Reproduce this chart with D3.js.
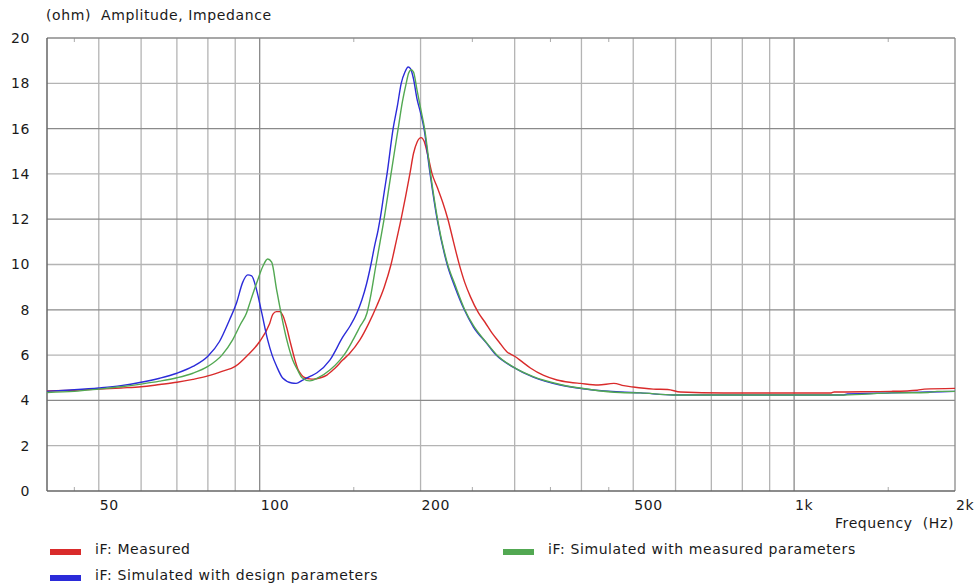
<!DOCTYPE html>
<html>
<head>
<meta charset="utf-8">
<script src="https://cdn.jsdelivr.net/npm/d3@7"></script>
<style>
  html, body { margin: 0; padding: 0; background: #ffffff; }
  svg { display: block; font-family: "DejaVu Sans", Verdana, sans-serif; }
  text { fill: #1a1a1a; letter-spacing: 0.6px; }
</style>
</head>
<body>
<svg id="chart" width="976" height="585"></svg>
<script>
// Impedance magnitude (ohm) versus frequency (Hz)
const measuredHz  = [40, 45, 50, 55, 60, 65, 70, 75, 80, 85, 90, 95, 100, 104.4, 105.8, 107.5, 109, 110.5, 112.4, 114, 115.3, 116.5, 117.8, 119.5, 121.5, 124, 126, 130, 133.6, 138, 143, 147, 154, 160, 165.8, 171, 176.1, 180, 183.9, 187.5, 191, 194, 197, 200.5, 203, 206, 210.2, 215, 220, 225, 230.5, 236, 242, 248, 256.7, 264, 272, 280, 290, 300, 310, 321, 340, 360, 380, 398, 430, 460, 480, 500, 545, 580, 613, 738, 1173, 1188, 1520, 1700, 1752, 2000];
const measuredOhm = [4.42, 4.45, 4.5, 4.55, 4.6, 4.7, 4.8, 4.93, 5.08, 5.28, 5.5, 6.0, 6.6, 7.4, 7.8, 7.92, 7.92, 7.75, 7.2, 6.6, 6.15, 5.75, 5.4, 5.15, 5.0, 4.95, 4.94, 5.0, 5.12, 5.4, 5.78, 6.05, 6.67, 7.4, 8.2, 9.0, 10.0, 11.0, 12.0, 13.0, 14.0, 14.9, 15.4, 15.6, 15.45, 14.9, 14.0, 13.4, 12.75, 12.0, 11.0, 10.05, 9.2, 8.57, 7.86, 7.45, 6.98, 6.6, 6.15, 5.95, 5.7, 5.43, 5.1, 4.9, 4.8, 4.75, 4.68, 4.75, 4.65, 4.59, 4.5, 4.48, 4.37, 4.33, 4.33, 4.37, 4.4, 4.45, 4.5, 4.53];

const designHz  = [40, 45, 50, 55, 60, 65, 70, 75, 80, 84.1, 87.8, 90.5, 92.9, 95, 96.6, 98.7, 100.9, 103.5, 105.5, 107.6, 110.4, 114.8, 117, 120.4, 124, 128, 135.3, 143.1, 148, 152, 155.3, 158.5, 161.5, 164, 166.5, 168, 171, 173.1, 177.7, 181, 184, 187, 189.6, 191.5, 194, 197, 200, 203, 208.4, 214.8, 224.3, 232, 241.5, 251.2, 265.7, 277, 298, 325, 365, 421, 473, 516, 595, 1238, 1258, 1520, 1781, 2000];
const designOhm = [4.4, 4.47, 4.55, 4.65, 4.8, 4.98, 5.2, 5.5, 5.95, 6.6, 7.55, 8.3, 9.2, 9.54, 9.5, 8.87, 7.86, 6.67, 6.0, 5.5, 4.99, 4.77, 4.75, 4.9, 5.05, 5.22, 5.78, 6.8, 7.33, 7.86, 8.43, 9.15, 10.0, 10.8, 11.5, 12.0, 13.2, 14.0, 16.0, 17.0, 18.0, 18.5, 18.72, 18.65, 18.2, 17.3, 16.7, 16.0, 14.0, 12.0, 10.0, 9.0, 8.0, 7.24, 6.53, 6.0, 5.47, 5.03, 4.68, 4.46, 4.37, 4.33, 4.24, 4.24, 4.28, 4.33, 4.37, 4.4];

const fittedHz  = [40, 45, 50, 55, 60, 65, 70, 75, 80, 85, 89, 92, 94.5, 96, 98.7, 101.3, 103.5, 105.3, 107.6, 110, 112.4, 115.3, 118, 120, 124.1, 128.5, 135.3, 141.3, 144.3, 149.5, 154, 158.8, 161, 165.1, 168, 170.9, 173.5, 176.1, 178.8, 181.6, 185, 188, 190, 192.1, 194, 197, 200, 203.5, 208.8, 215, 224.5, 232.5, 241.5, 251.2, 265.7, 277.5, 298, 325, 365, 421, 473, 516, 595, 1238, 1520, 1781, 1850, 2000];
const fittedOhm = [4.35, 4.4, 4.5, 4.6, 4.72, 4.85, 5.0, 5.2, 5.5, 6.0, 6.67, 7.35, 7.86, 8.35, 9.18, 9.9, 10.24, 10.1, 8.87, 7.68, 6.67, 5.78, 5.3, 5.0, 4.86, 4.99, 5.34, 5.78, 6.05, 6.67, 7.25, 7.86, 8.5, 10.0, 11.0, 12.0, 13.0, 14.0, 15.0, 16.0, 17.2, 18.0, 18.45, 18.6, 18.5, 17.7, 16.9, 16.0, 14.0, 12.05, 10.05, 9.05, 8.05, 7.3, 6.55, 6.02, 5.48, 5.05, 4.7, 4.46, 4.35, 4.33, 4.24, 4.24, 4.33, 4.35, 4.4, 4.4];

// Axis ticks and grid
const xGridHz    = [50, 60, 70, 80, 90, 100, 200, 300, 400, 500, 600, 700, 800, 900, 1000];
const xMajorHz   = [100, 1000];
const xMinorHz   = [45, 150, 250, 350, 450, 1500];
const xTickHz    = [50, 100, 200, 500, 1000, 2000];
const xTickText  = ["50", "100", "200", "500", "1k", "2k"];
const yTicks     = [0, 2, 4, 6, 8, 10, 12, 14, 16, 18, 20];
const yMajor     = [4, 8, 12, 16];

const seriesNames  = ["iF: Measured", "iF: Simulated with design parameters", "iF: Simulated with measured parameters"];
const seriesColors = ["#d92b2b", "#2b2bd9", "#52a852"];

const svg = d3.select("#chart");
const plotLeft = 47, plotRight = 955, plotTop = 38, plotBottom = 491;

const x = d3.scaleLog().domain([40, 2000]).range([plotLeft, plotRight]);
const y = d3.scaleLinear().domain([0, 20]).range([plotBottom, plotTop]);

// grid
const grid = svg.append("g");
grid.selectAll("line.gx").data(xGridHz).join("line")
  .attr("x1", d => x(d)).attr("x2", d => x(d))
  .attr("y1", plotTop).attr("y2", plotBottom)
  .attr("stroke", d => xMajorHz.includes(d) ? "#8a8a8a" : "#b4b4b4")
  .attr("stroke-width", 1.3);
grid.selectAll("line.gy").data(yTicks.filter(v => v > 0 && v < 20)).join("line")
  .attr("x1", plotLeft).attr("x2", plotRight)
  .attr("y1", d => y(d)).attr("y2", d => y(d))
  .attr("stroke", d => yMajor.includes(d) ? "#8a8a8a" : "#b4b4b4")
  .attr("stroke-width", 1.3);

// short half-step ticks on top and bottom edges
grid.selectAll("line.mt").data(xMinorHz).join("line")
  .attr("x1", d => x(d)).attr("x2", d => x(d))
  .attr("y1", plotTop).attr("y2", plotTop + 4)
  .attr("stroke", "#aaaaaa").attr("stroke-width", 1);
grid.selectAll("line.mb").data(xMinorHz).join("line")
  .attr("x1", d => x(d)).attr("x2", d => x(d))
  .attr("y1", plotBottom - 4).attr("y2", plotBottom)
  .attr("stroke", "#aaaaaa").attr("stroke-width", 1);

// frame
svg.append("line").attr("x1", plotLeft).attr("x2", plotRight).attr("y1", plotTop).attr("y2", plotTop)
  .attr("stroke", "#8a8a8a").attr("stroke-width", 1.3);
svg.append("line").attr("x1", plotRight).attr("x2", plotRight).attr("y1", plotTop).attr("y2", plotBottom)
  .attr("stroke", "#8a8a8a").attr("stroke-width", 1.3);
svg.append("line").attr("x1", plotLeft).attr("x2", plotLeft).attr("y1", plotTop).attr("y2", plotBottom)
  .attr("stroke", "#666666").attr("stroke-width", 1.5);
svg.append("line").attr("x1", plotLeft).attr("x2", plotRight).attr("y1", plotBottom).attr("y2", plotBottom)
  .attr("stroke", "#666666").attr("stroke-width", 1.5);

// curves
const line = d3.line().x(d => x(d[0])).y(d => y(d[1])).curve(d3.curveMonotoneX);
const series = [
  d3.zip(measuredHz, measuredOhm),
  d3.zip(designHz, designOhm),
  d3.zip(fittedHz, fittedOhm)
];
svg.append("g").selectAll("path").data(series).join("path")
  .attr("d", line)
  .attr("fill", "none")
  .attr("stroke", (d, i) => seriesColors[i])
  .attr("stroke-width", 1.4)
  .attr("stroke-linejoin", "round");

// y labels
svg.append("g").selectAll("text").data(yTicks).join("text")
  .attr("x", 30).attr("y", d => y(d)).attr("dy", "0.35em")
  .attr("text-anchor", "end").attr("font-size", 14)
  .text(d => d);

// x labels
svg.append("g").selectAll("text").data(xTickHz).join("text")
  .attr("x", d => x(d) + 1).attr("y", 510)
  .attr("text-anchor", "start").attr("font-size", 14)
  .text((d, i) => xTickText[i]);

// axis titles
svg.append("text").attr("x", 46).attr("y", 20).attr("font-size", 14)
  .style("white-space", "pre")
  .text("(ohm)  Amplitude, Impedance");
svg.append("text").attr("x", 954).attr("y", 528).attr("font-size", 14)
  .attr("text-anchor", "end").style("white-space", "pre")
  .text("Frequency  (Hz)");

// legend
const legendPos = [[50, 549], [50, 575], [503, 549]];
const lg = svg.append("g");
seriesNames.forEach((name, i) => {
  const [lx, ly] = legendPos[i];
  lg.append("rect").attr("x", lx).attr("y", ly).attr("width", 31).attr("height", 6)
    .attr("fill", seriesColors[i]);
  lg.append("text").attr("x", lx + 45).attr("y", ly + 5).attr("font-size", 14)
    .text(name);
});
</script>
</body>
</html>
